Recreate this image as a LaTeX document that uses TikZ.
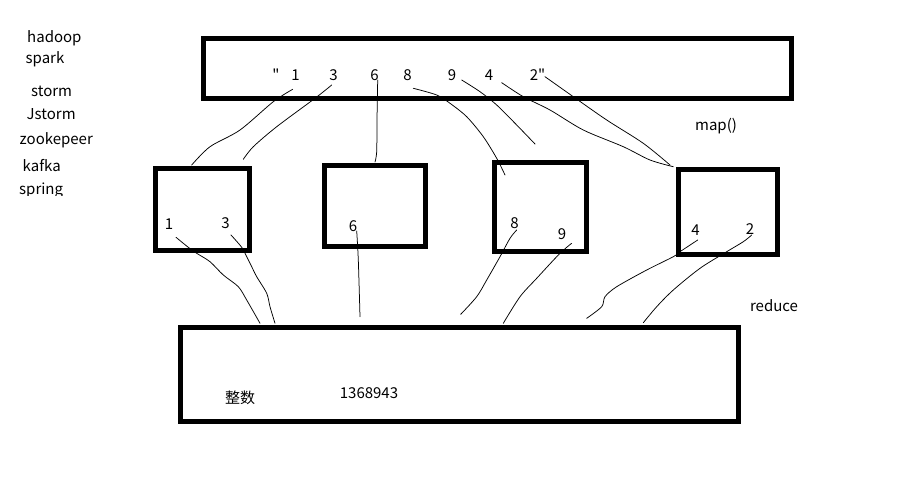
\documentclass[tikz,border=0pt]{standalone}
\usepackage{fontspec}
\newfontfamily\diagfont{Noto Sans CJK SC}
\begin{document}
\begin{tikzpicture}[x=1pt,y=-1pt,
  box/.style={line width=5pt},
  stroke/.style={line width=0.75pt, line cap=round, line join=round},
  lbl/.style={inner sep=0pt, anchor=base, font=\diagfont\fontsize{15}{18}\selectfont},
  lst/.style={inner sep=0pt, anchor=base west, font=\diagfont\fontsize{15}{18}\selectfont}]
\useasboundingbox (0,0) rectangle (912,477);
% left list
\node[lst] (t1) at (27,42.7) {hadoop};
\node[lst] (t2) at (25.5,63) {spark};
\node[lst] (t3) at (31,96) {storm};
\node[lst] (t4) at (26.5,119.5) {Jstorm};
\node[lst] (t5) at (19.5,144.5) {zookepeer};
\node[lst] (t6) at (22.5,171.5) {kafka};
\begin{scope}
\clip (0,180) rectangle (120,195);
\node[lst] (t7) at (19,194.5) {spring};
\end{scope}
% boxes
\draw[box] (203,38) rectangle (791,98);
\draw[box] (155,168.5) rectangle (249,250);
\draw[box] (324,165) rectangle (425,246);
\draw[box] (494,162.5) rectangle (586,251.5);
\draw[box] (678,169) rectangle (777,254.5);
\draw[box] (180,327) rectangle (738,421);
% top numbers
\node[lbl] (q0) at (276,80) {"};
\node[lbl] (a1) at (295.5,80) {1};
\node[lbl] (a3) at (333.5,80) {3};
\node[lbl] (a6) at (374.5,80) {6};
\node[lbl] (a8) at (407.5,80) {8};
\node[lbl] (a9) at (452,80) {9};
\node[lbl] (a4) at (489,80) {4};
\node[lbl] (a2) at (537.5,80) {2"};
% box numbers
\node[lbl] (b1) at (169,229) {1};
\node[lbl] (b3) at (225.5,228) {3};
\node[lbl] (b6) at (353,231) {6};
\node[lbl] (b8) at (514.5,228) {8};
\node[lbl] (b9) at (562,239) {9};
\node[lbl] (b4) at (695.5,235) {4};
\node[lbl] (b2) at (750,234) {2};
% other labels
\node[lbl] (map) at (716,130) {map()};
\node[lbl] (red) at (774,311) {reduce};
\node[lbl] (zs) at (240,403) {整数};
\node[lbl] (res) at (369,398) {1368943};
% map strokes
\draw[stroke] plot[smooth] coordinates {(292.7,89.3) (273.3,101.7) (240,130) (210,146.7) (191.7,165)};
\draw[stroke] plot[smooth] coordinates {(331.7,85) (315,98.3) (276.7,126.7) (253.3,146.7) (243.3,159.3)};
\draw[stroke] plot[smooth] coordinates {(377.7,80) (377,120) (376.7,151.7) (375,162)};
\draw[stroke] plot[smooth] coordinates {(413.3,88.3) (436.7,95) (450,103.3) (466.7,116.7) (483.3,136.7) (496.7,158.3) (505,175)};
\draw[stroke] plot[smooth] coordinates {(461.7,80) (480,91.7) (496.7,105) (516.7,125) (535,144)};
\draw[stroke] plot[smooth] coordinates {(501.7,82.7) (523.3,96.7) (550,110) (583.3,130) (623.3,146.7) (650,160) (673.3,166.7)};
\draw[stroke] plot[smooth] coordinates {(545,76.7) (573.3,96.7) (606.7,120) (643.3,143.3) (670,165)};
% reduce strokes
\draw[stroke] plot[smooth] coordinates {(176,237.3) (188.3,247.3) (196.7,253.3) (210,261.7) (223.3,275) (238.3,286.7) (246.7,300) (260,323.3)};
\draw[stroke] plot[smooth] coordinates {(231,235) (241.7,247.3) (246.7,256.7) (251.7,266.7) (256.7,276.7) (266.7,293.3) (270,306.7) (275,323.3)};
\draw[stroke] plot[smooth] coordinates {(356.7,231) (358.3,260) (360,316.7)};
\draw[stroke] plot[smooth] coordinates {(516.7,230) (510,238.3) (500,256.7) (486.7,280) (476.7,296.7) (460.7,314.3)};
\draw[stroke] plot[smooth] coordinates {(571.7,243.3) (566.7,247.3) (556.7,256.7) (536.7,278.3) (520,296.7) (503.3,323.3)};
\draw[stroke] plot[smooth] coordinates {(697.7,240) (680,251.7) (673.3,256.7) (646.7,270) (616.7,286.7) (605,296.7) (601.7,306.7) (586.7,318.3)};
\draw[stroke] plot[smooth] coordinates {(751.7,235) (743.3,241.7) (726.7,251.7) (700,268.3) (673.3,290) (656.7,306.7) (643.3,322.7)};
\end{tikzpicture}
\end{document}
